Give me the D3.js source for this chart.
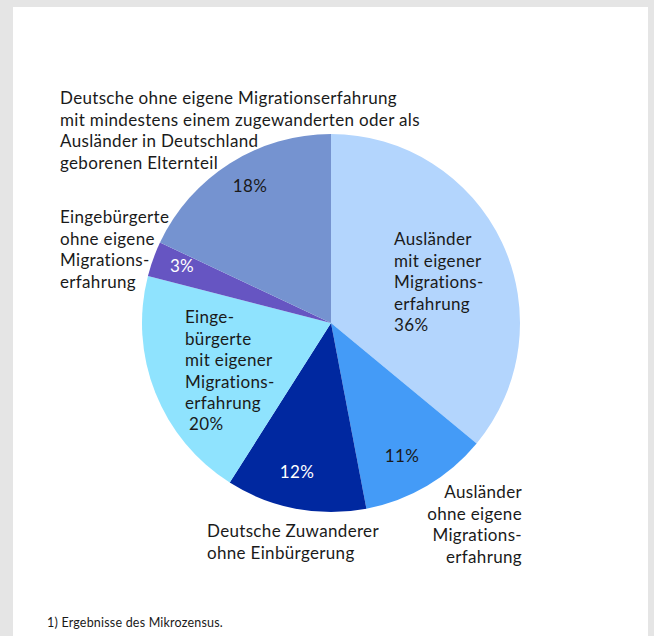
<!DOCTYPE html>
<html><head><meta charset="utf-8">
<script src="https://cdn.jsdelivr.net/npm/d3@7"></script>
<style>
html,body{margin:0;padding:0;background:#e5e5e5;}
svg{display:block;}
text{font-family:Lato, "Open Sans", sans-serif;fill:#1a1a1a;font-variant-ligatures:none;}
</style></head><body>
<script>
const categories = [
  "Ausländer mit eigener Migrationserfahrung",
  "Ausländer ohne eigene Migrationserfahrung",
  "Deutsche Zuwanderer ohne Einbürgerung",
  "Eingebürgerte mit eigener Migrationserfahrung",
  "Eingebürgerte ohne eigene Migrationserfahrung",
  "Deutsche ohne eigene Migrationserfahrung mit mindestens einem zugewanderten oder als Ausländer in Deutschland geborenen Elternteil"
];
const values = [36, 11, 12, 20, 3, 18];
const colors = ["#b3d5fd", "#449bf7", "#0028a0", "#8fe3fe", "#6655c2", "#7593d0"];
const pctColors = ["#1a1a1a", "#1a1a1a", "#ffffff", "#1a1a1a", "#ffffff", "#1a1a1a"];
const footnote = "1) Ergebnisse des Mikrozensus.";

const W = 654, H = 636;
const svg = d3.select("body").append("svg").attr("width", W).attr("height", H);
svg.append("rect").attr("x", 13).attr("y", 7).attr("width", 635).attr("height", H - 7).attr("fill", "#ffffff");

const cx = 331, cy = 323, R = 189;
const pie = d3.pie().sort(null).value(d => d);
const arcs = pie(values);
const arc = d3.arc().innerRadius(0).outerRadius(R);
const g = svg.append("g").attr("transform", `translate(${cx},${cy})`);
g.selectAll("path").data(arcs).enter().append("path")
  .attr("d", arc).attr("fill", (d, i) => colors[i]);

const fs = 17, lh = 21.6, ls = 0.33;
function block(lines, x, y, anchor, fill) {
  const t = svg.append("text").attr("x", x).attr("y", y)
    .attr("font-size", fs).attr("letter-spacing", ls).attr("text-anchor", anchor || "start");
  if (fill) t.style("fill", fill);
  lines.forEach((l, i) => t.append("tspan").attr("x", x).attr("dy", i === 0 ? 0 : lh).text(l));
  return t;
}
const pct = values.map(v => v + "%");

// outside labels
block(["Deutsche ohne eigene Migrationserfahrung", "mit mindestens einem zugewanderten oder als", "Ausländer in Deutschland", "geborenen Elternteil"], 60, 104);
block(["Eingebürgerte", "ohne eigene", "Migrations-", "erfahrung"], 60, 223);
block(["Ausländer", "ohne eigene", "Migrations-", "erfahrung"], 522, 498, "end");
block(["Deutsche Zuwanderer", "ohne Einbürgerung"], 207, 537);

// inside labels
block(["Ausländer", "mit eigener", "Migrations-", "erfahrung", pct[0]], 394, 245);
block(["Einge-", "bürgerte", "mit eigener", "Migrations-", "erfahrung"], 185, 323);
block([pct[3]], 189, 430);
block([pct[1]], 402, 462, "middle", pctColors[1]);
block([pct[2]], 297, 478, "middle", pctColors[2]);
block([pct[4]], 182, 272, "middle", pctColors[4]);
block([pct[5]], 250, 192, "middle", pctColors[5]);

svg.append("text").attr("x", 47).attr("y", 627).attr("font-size", 12.5).attr("letter-spacing", 0.2).text(footnote);
</script>
</body></html>
